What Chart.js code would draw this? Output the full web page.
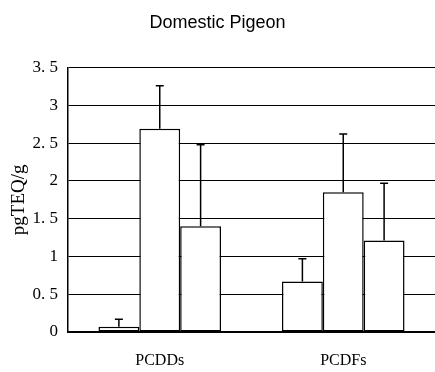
<!DOCTYPE html>
<html>
<head>
<meta charset="utf-8">
<script src="https://cdn.jsdelivr.net/npm/chart.js@4"></script>
<style>
  html, body { margin: 0; padding: 0; background: #fff; }
  #wrap { width: 435px; height: 372px; }
</style>
</head>
<body>
<div id="wrap"><canvas id="chart" width="435" height="372"></canvas></div>
<script>
const categories = ["PCDDs", "PCDFs"];
const seriesA = [0.07, 0.67];
const seriesB = [2.69, 1.85];
const seriesC = [1.40, 1.21];
// upper error amounts, same order as the series
const errA = [0.10, 0.30];
const errB = [0.57, 0.77];
const errC = [1.08, 0.76];
const yTicks = [0, 0.5, 1, 1.5, 2, 2.5, 3, 3.5];

const serif = "'Liberation Serif', 'DejaVu Serif', serif";

// draws the upper error bar with a short cap on each bar
const errorBars = {
  id: "errorBars",
  afterDatasetsDraw(chart) {
    const ctx = chart.ctx;
    const y = chart.scales.y;
    ctx.save();
    ctx.strokeStyle = "#000";
    ctx.lineWidth = 1.5;
    chart.data.datasets.forEach((ds, di) => {
      const meta = chart.getDatasetMeta(di);
      meta.data.forEach((bar, i) => {
        const top = y.getPixelForValue(ds.data[i] + ds.err[i]);
        const x = bar.x;
        ctx.beginPath();
        ctx.moveTo(x, bar.y);
        ctx.lineTo(x, top);
        ctx.moveTo(x - 4, top);
        ctx.lineTo(x + 4, top);
        ctx.stroke();
      });
    });
    ctx.restore();
  }
};

const barStyle = { backgroundColor: "#fff", borderColor: "#000", borderWidth: 1.5, borderSkipped: false };

new Chart(document.getElementById("chart"), {
  type: "bar",
  data: {
    labels: categories,
    datasets: [
      { label: "A", data: seriesA, err: errA, ...barStyle },
      { label: "B", data: seriesB, err: errB, ...barStyle },
      { label: "C", data: seriesC, err: errC, ...barStyle }
    ]
  },
  options: {
    responsive: false,
    animation: false,
    datasets: { bar: { categoryPercentage: 0.668, barPercentage: 1 } },
    layout: { padding: 0 },
    plugins: {
      legend: { display: false },
      tooltip: { enabled: false },
      title: {
        display: true,
        text: "Domestic Pigeon",
        color: "#000",
        font: { family: "'Liberation Sans', Arial, sans-serif", size: 18, weight: "normal" },
        padding: { top: 12, bottom: 34 }
      }
    },
    scales: {
      x: {
        grid: { display: false, drawTicks: false },
        border: { color: "#000", width: 1.5 },
        ticks: { color: "#000", padding: 19, font: { family: serif, size: 16 } },
        afterFit(scale) { scale.height = 40; }
      },
      y: {
        min: 0,
        max: 3.5,
        afterBuildTicks(scale) { scale.ticks = yTicks.map(v => ({ value: v })); },
        grid: { color: "#000", lineWidth: 1, drawTicks: false },
        border: { color: "#000", width: 1.5 },
        ticks: {
          color: "#000",
          padding: 10,
          font: { family: serif, size: 17 },
          callback: v => String(v).replace(".", ". ")
        },
        title: {
          display: true,
          text: "pgTEQ/g",
          color: "#000",
          font: { family: serif, size: 19 },
          padding: { top: 8, bottom: 2 }
        },
        afterFit(scale) { scale.width = 68; }
      }
    }
  },
  plugins: [errorBars]
});
</script>
</body>
</html>
